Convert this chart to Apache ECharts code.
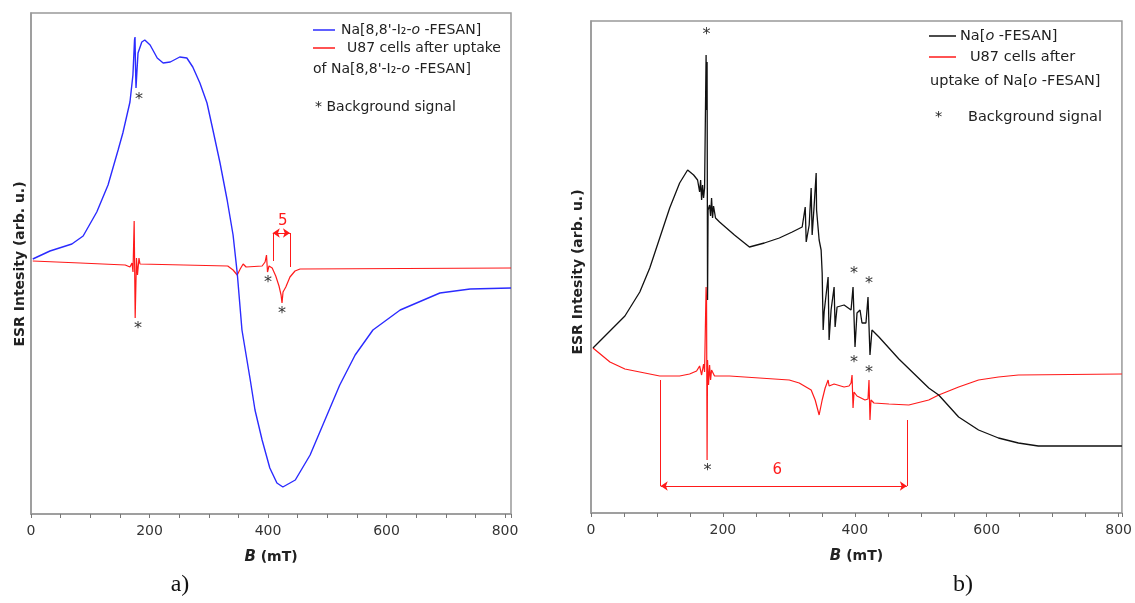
<!DOCTYPE html>
<html>
<head>
<meta charset="utf-8">
<title>ESR spectra</title>
<script src="https://cdn.jsdelivr.net/npm/echarts/dist/echarts.min.js"></script>
<style>
  html, body { margin: 0; padding: 0; background: #fff; }
  #main { width: 1135px; height: 603px; }
</style>
</head>
<body>
<div id="main"></div>
<script>
// x ticks (mT)
var tickLabels = [0, 200, 400, 600, 800];

// a) Na[8,8'-I2-o-FESAN]  (B in mT, intensity in arb. u.)
var aBlueB = [3, 32, 69, 88, 111, 130, 147, 155, 167, 172, 174.7, 175.5, 176.3, 177.2, 178.9, 180.6, 187, 192, 201, 213, 223, 235, 251, 263, 273, 285, 297, 307, 319, 331, 341, 348, 356, 370, 378, 390, 403, 415, 425, 446, 471, 496, 521, 547, 577, 623, 690, 741, 810];
var aBlueI = [255, 263, 270, 278, 302, 329, 364, 381, 412, 439, 474, 477, 449, 426, 444, 461, 472, 474, 469, 456, 451, 452, 457, 456, 447, 431, 411, 384, 351, 314, 279, 241, 184, 134, 104, 74, 46, 31, 27, 34, 59, 94, 129, 159, 184, 204, 221, 225, 226];

// a) U87 cells after uptake
var aRedB = [3, 83, 159, 167, 170.4, 172.1, 174.1, 175.8, 178, 179.7, 182.2, 183.9, 187, 332, 341, 348, 353, 358, 363, 390, 395, 397.4, 399.1, 401.6, 407, 413, 418.5, 422, 423.6, 425.3, 430, 437, 445.5, 454, 810];
var aRedI = [253, 251, 249, 247, 251, 242, 293, 196, 256, 239, 256, 250, 248, 248, 244, 239, 245, 250, 247, 248, 252, 259, 242, 248, 246, 238, 228, 219, 211, 222, 227, 237, 243, 245, 246];

// a) background-signal asterisks and the "5" bracket
var aStarB = [182.2, 180.6, 400, 423.6];
var aStarI = [414, 185, 231, 200];
var aBracket = { from: 408, to: 437, level: 281, footFrom: 253, footTo: 247, label: '5', labelB: 425, labelI: 293 };

// b) Na[o-FESAN]
var bBlackB = [3, 28.7, 51.4, 74, 89.1, 104.2, 119.3, 134.4, 146.5, 155.6, 161.6, 164.7, 166.2, 167.7, 169.2, 170.7, 172.2, 174.5, 175.2, 176, 176.7, 177.5, 179.8, 181.3, 182.8, 184.3, 185.8, 188.8, 194.9, 217.5, 240.2, 262.8, 285.5, 305.1, 320.2, 324.8, 326.3, 330.8, 333.8, 335.3, 338.4, 341.4, 342, 344.4, 345.9, 348.9, 350.5, 352, 353.5, 356.5, 359.5, 361, 364, 368.6, 370.1, 373.1, 383.7, 394.3, 397.3, 400.3, 403.3, 407.9, 410.9, 416.9, 420, 423, 426, 436.6, 466.8, 512.1, 527.2, 557.4, 587.6, 617.8, 648, 678.2, 805];
var bBlackI = [165, 182, 197, 221, 245, 275, 305, 330, 343, 338, 333, 321, 333, 313, 328, 315, 325, 458, 403, 451, 213, 303, 308, 297, 315, 295, 307, 295, 291, 278, 266, 270, 275, 281, 286, 306, 271, 288, 325, 278, 308, 340, 303, 301, 273, 263, 240, 183, 201, 200, 236, 173, 203, 226, 186, 206, 208, 203, 226, 166, 200, 203, 190, 190, 216, 158, 183, 176, 154, 125, 118, 96, 83, 75, 70, 67, 67];

// b) U87 cells after uptake
var bRedB = [3, 28.7, 51.4, 74, 104.2, 134.4, 149.5, 160.1, 164.7, 167.7, 170.7, 172.2, 174.5, 175.2, 176, 176.7, 178.2, 179.8, 181.3, 182.8, 187.3, 210, 255.3, 300.6, 315.7, 333.8, 339.9, 345.9, 350.5, 355, 359.5, 361, 368.6, 383.7, 391.2, 394.3, 395.8, 397.3, 398.8, 403.3, 409.4, 415.4, 420, 421.5, 423, 424.5, 429, 451.7, 481.9, 512.1, 527.2, 557.4, 587.6, 617.8, 648, 805];
var bRedI = [165, 151, 144, 141, 137, 137, 139, 142, 147, 138, 149, 141, 226, 213, 53, 153, 128, 148, 133, 143, 137, 137, 135, 133, 130, 123, 113, 98, 113, 125, 133, 127, 129, 126, 127, 130, 138, 105, 121, 117, 115, 113, 114, 133, 93, 113, 110, 109, 108, 113, 118, 126, 133, 136, 138, 139];

// b) asterisks and the "6" bracket
var bStarB = [175.2, 176.7, 398.8, 398.8, 421.5, 421.5];
var bStarI = [478, 42, 239, 150, 229, 140];
var bBracket = { from: 105.7, to: 478.9, level: 27, footFrom: 133, footTo: 93, label: '6', labelB: 282.5, labelI: 43 };

var FONT = 'DejaVu Sans';
var RED = '#ff1a1a';

function zip(xs, ys) {
    var out = [];
    for (var i = 0; i < xs.length; i++) out.push([xs[i], ys[i]]);
    return out;
}

function xAxisFor(idx, max) {
    return {
        type: 'value', gridIndex: idx, min: 0, max: max, interval: 50,
        name: '{b|B} (mT)', nameLocation: 'middle', nameGap: 36,
        nameTextStyle: {
            fontFamily: FONT, fontSize: 14, fontWeight: 'bold', color: '#222',
            rich: { b: { fontFamily: FONT, fontSize: 15, fontWeight: 'bold', fontStyle: 'italic', color: '#222' } }
        },
        axisLine: { show: true, lineStyle: { color: '#999', width: 1.5 } },
        axisTick: { show: true, length: 4, lineStyle: { color: '#777' } },
        axisLabel: {
            margin: 10, fontFamily: FONT, fontSize: 14, color: '#333',
            formatter: function (v) { return tickLabels.indexOf(v) >= 0 ? String(v) : ''; }
        },
        splitLine: { show: false }
    };
}

function yAxisFor(idx, max) {
    return {
        type: 'value', gridIndex: idx, min: 0, max: max,
        axisLine: { show: true, lineStyle: { color: '#999', width: 1.5 } },
        axisTick: { show: false }, axisLabel: { show: false }, splitLine: { show: false }
    };
}

function bracketLines(b) {
    return {
        silent: true, symbol: ['none', 'none'], animation: false,
        label: { show: false },
        lineStyle: { color: RED, type: 'solid', width: 1 },
        data: [
            [{ coord: [b.from, b.footFrom] }, { coord: [b.from, b.level] }],
            [{ coord: [b.to, b.footTo] }, { coord: [b.to, b.level] }],
            [{ coord: [b.from, b.level], symbol: 'arrow', symbolSize: 7 }, { coord: [b.to, b.level], symbol: 'arrow', symbolSize: 7 }]
        ]
    };
}

// text-only scatter (asterisks, bracket numbers)
function textMarks(idx, pts, txt, color, size, dy) {
    return {
        type: 'scatter', xAxisIndex: idx, yAxisIndex: idx, silent: true,
        data: pts, symbol: 'circle', symbolSize: 2,
        itemStyle: { color: 'rgba(255,255,255,0)' }, z: 5,
        label: {
            show: true, position: 'inside', formatter: txt, offset: [0, dy],
            fontFamily: FONT, fontSize: size, color: color, opacity: 1
        },
        labelLayout: { hideOverlap: false }
    };
}

function legendText(x, y, text, size) {
    return {
        type: 'text', x: x, y: y, silent: true,
        style: {
            text: text, fill: '#222', font: size + 'px "' + FONT + '"', verticalAlign: 'middle',
            rich: { i: { fontStyle: 'italic', fontSize: size, fontFamily: FONT, fill: '#222' } }
        }
    };
}

function legendLine(x1, x2, y, color) {
    return { type: 'line', silent: true, shape: { x1: x1, y1: y, x2: x2, y2: y }, style: { stroke: color, lineWidth: 1.5 } };
}

function yTitle(x, y) {
    return {
        type: 'text', x: x, y: y, rotation: Math.PI / 2, silent: true,
        style: { text: 'ESR Intesity (arb. u.)', fill: '#222', font: 'bold 14px "' + FONT + '"', align: 'center', verticalAlign: 'middle' }
    };
}

function panelTag(x, y, t) {
    return { type: 'text', x: x, y: y, silent: true, style: { text: t, fill: '#111', font: '24px "Liberation Serif"', align: 'center', verticalAlign: 'middle' } };
}

var chart = echarts.init(document.getElementById('main'), null, { renderer: 'canvas' });

chart.setOption({
    animation: false,
    backgroundColor: '#fff',
    grid: [
        { left: 31, top: 13, width: 480, height: 501, show: true, borderColor: '#999', borderWidth: 1.5, backgroundColor: 'transparent' },
        { left: 591, top: 21, width: 533, height: 492, show: true, borderColor: '#999', borderWidth: 1.5, backgroundColor: 'transparent' }
    ],
    xAxis: [xAxisFor(0, 810), xAxisFor(1, 805)],
    yAxis: [yAxisFor(0, 501), yAxisFor(1, 492)],
    series: [
        {
            name: 'U87 a', type: 'line', xAxisIndex: 0, yAxisIndex: 0, data: zip(aRedB, aRedI),
            symbol: 'none', lineStyle: { color: RED, width: 1.2 }, z: 2,
            markLine: bracketLines(aBracket)
        },
        {
            name: 'Na a', type: 'line', xAxisIndex: 0, yAxisIndex: 0, data: zip(aBlueB, aBlueI),
            symbol: 'none', lineStyle: { color: '#2b2bff', width: 1.4 }, z: 3
        },
        textMarks(0, zip(aStarB, aStarI), '*', '#333', 16, 4),
        textMarks(0, [[aBracket.labelB, aBracket.labelI]], aBracket.label, RED, 15, 0),
        {
            name: 'U87 b', type: 'line', xAxisIndex: 1, yAxisIndex: 1, data: zip(bRedB, bRedI),
            symbol: 'none', lineStyle: { color: RED, width: 1.2 }, z: 2,
            markLine: bracketLines(bBracket)
        },
        {
            name: 'Na b', type: 'line', xAxisIndex: 1, yAxisIndex: 1, data: zip(bBlackB, bBlackI),
            symbol: 'none', lineStyle: { color: '#111', width: 1.3 }, z: 3
        },
        textMarks(1, zip(bStarB, bStarI), '*', '#333', 16, 4),
        textMarks(1, [[bBracket.labelB, bBracket.labelI]], bBracket.label, RED, 15, 0)
    ],
    graphic: [
        // legend a)
        legendLine(313, 335, 30, '#2b2bff'),
        legendText(341, 30, "Na[8,8'-I\u2082-{i|o} -FESAN]", 14),
        legendLine(313, 335, 48, RED),
        legendText(347, 48, 'U87 cells after uptake', 14),
        legendText(313, 69, "of Na[8,8'-I\u2082-{i|o} -FESAN]", 14),
        legendText(315, 107, '* Background signal', 14),
        // legend b)
        legendLine(929, 956, 36, '#111'),
        legendText(960, 36, 'Na[{i|o} -FESAN]', 14.5),
        legendLine(929, 956, 57, RED),
        legendText(970, 57, 'U87 cells after', 14.5),
        legendText(930, 81, 'uptake of Na[{i|o} -FESAN]', 14.5),
        legendText(935, 117, '*', 14.5),
        legendText(968, 117, 'Background signal', 14.5),
        // axis titles + panel tags
        yTitle(20, 264),
        yTitle(578, 272),
        panelTag(180, 585, 'a)'),
        panelTag(963, 585, 'b)')
    ]
});
</script>
</body>
</html>
